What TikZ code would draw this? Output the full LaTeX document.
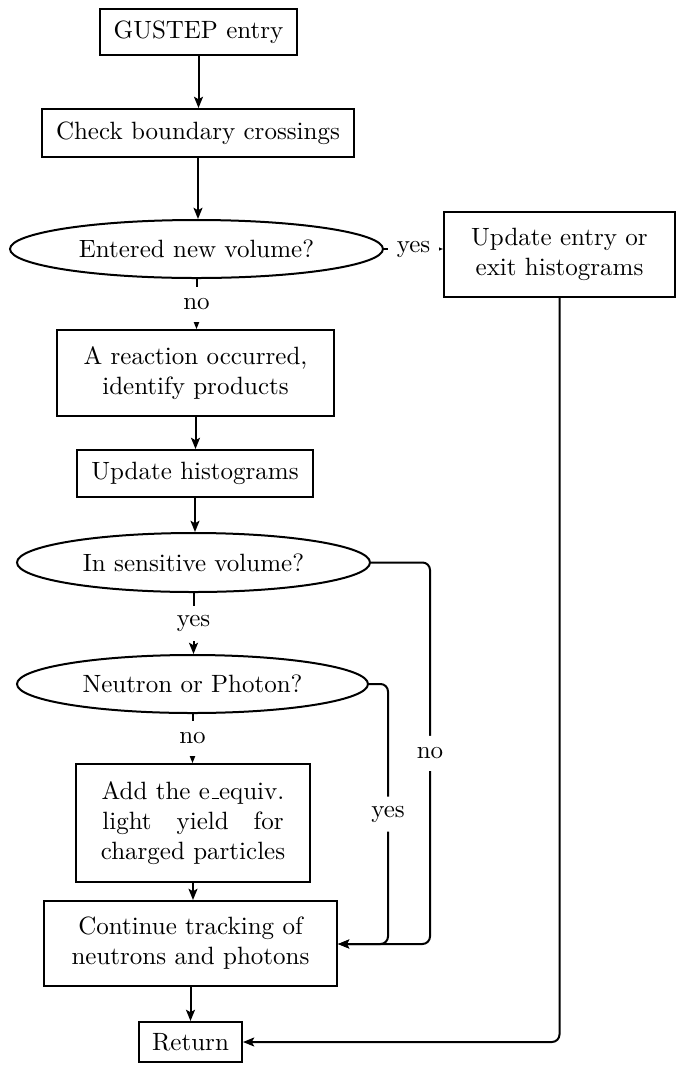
\documentclass[tikz,border=0pt]{standalone}
\usetikzlibrary{shapes.geometric,arrows.meta}
\newcommand{\lowbar}{\leavevmode\kern.06em\vbox{\hrule width .3em}}
\tikzset{
  box/.style={draw, line width=0.8pt, inner sep=0pt, align=center},
  oval/.style={draw, ellipse, line width=0.8pt, inner sep=0pt},
  arr/.style={line width=0.8pt, -{Stealth[length=4.5pt,width=3.6pt,inset=1pt]}},
  lbl/.style={fill=white, inner xsep=1pt, inner ysep=0pt, minimum height=14pt},
  hlbl/.style={fill=white, inner xsep=3.5pt, inner ysep=1pt},
}
\begin{document}
\begin{tikzpicture}[x=0.4pt, y=-0.4pt]
\useasboundingbox (0,0) rectangle (676,1068);

\node[box, minimum width=78.8pt, minimum height=18.4pt] (gustep) at (198.5,32) {GUSTEP entry};
\node[box, minimum width=124.8pt, minimum height=19.2pt] (check) at (198,133) {Check boundary crossings};
\node[oval, minimum width=149.2pt, minimum height=23.2pt] (enter) at (196.5,249) {Entered new volume?};
\node[box, minimum width=92.4pt, minimum height=34pt] (upd) at (559.5,254.5) {Update entry or\\exit histograms};
\node[box, minimum width=110.8pt, minimum height=34.4pt] (react) at (195.5,373) {A reaction occurred,\\identify products};
\node[box, minimum width=94.4pt, minimum height=18.8pt] (hist) at (195,473.5) {Update histograms};
\node[oval, minimum width=141.2pt, minimum height=23.6pt] (sens) at (193.5,562.5) {In sensitive volume?};
\node[oval, minimum width=140.4pt, minimum height=23.2pt] (neut) at (192.5,684) {Neutron or Photon?};
\node[box, minimum width=93.6pt, minimum height=47.2pt] (add) at (193,823)
  {Add the e\lowbar equiv.\\\makebox[72.5pt][s]{light yield for}\\charged particles};
\node[box, minimum width=117.2pt, minimum height=34pt] (cont) at (190.5,943.5) {Continue tracking of\\neutrons and photons};
\node[box, minimum width=41.2pt, minimum height=16pt] (ret) at (190.5,1042) {Return};

\draw[arr] (gustep.south) -- (gustep.south |- check.north);
\draw[arr] (check.south) -- (check.south |- enter.north);
\draw[arr] (enter.east) -- node[hlbl]{yes} (enter.east -| upd.west);
\draw[arr] (enter.south) -- node[lbl]{no} (enter.south |- react.north);
\draw[arr] (react.south) -- (react.south |- hist.north);
\draw[arr] (hist.south) -- (hist.south |- sens.north);
\draw[arr] (sens.south) -- node[lbl]{yes} (sens.south |- neut.north);
\draw[arr] (neut.south) -- node[lbl]{no} (neut.south |- add.north);
\draw[arr] (add.south) -- (add.south |- cont.north);
\draw[arr] (cont.south) -- (cont.south |- ret.north);

\coordinate (s1) at (430,562.5);
\coordinate (s2) at (430,944);
\draw[arr, rounded corners=3pt] (sens.east) -- (s1) -- node[lbl]{no} (s2) -- (cont.east |- s2);
\coordinate (n1) at (388,684);
\coordinate (n2) at (388,944);
\draw[arr, rounded corners=3pt] (neut.east) -- (n1) -- node[lbl]{yes} (n2) -- (cont.east |- n2);
\draw[arr, rounded corners=3pt] (upd.south) |- (ret.east);
\end{tikzpicture}
\end{document}
